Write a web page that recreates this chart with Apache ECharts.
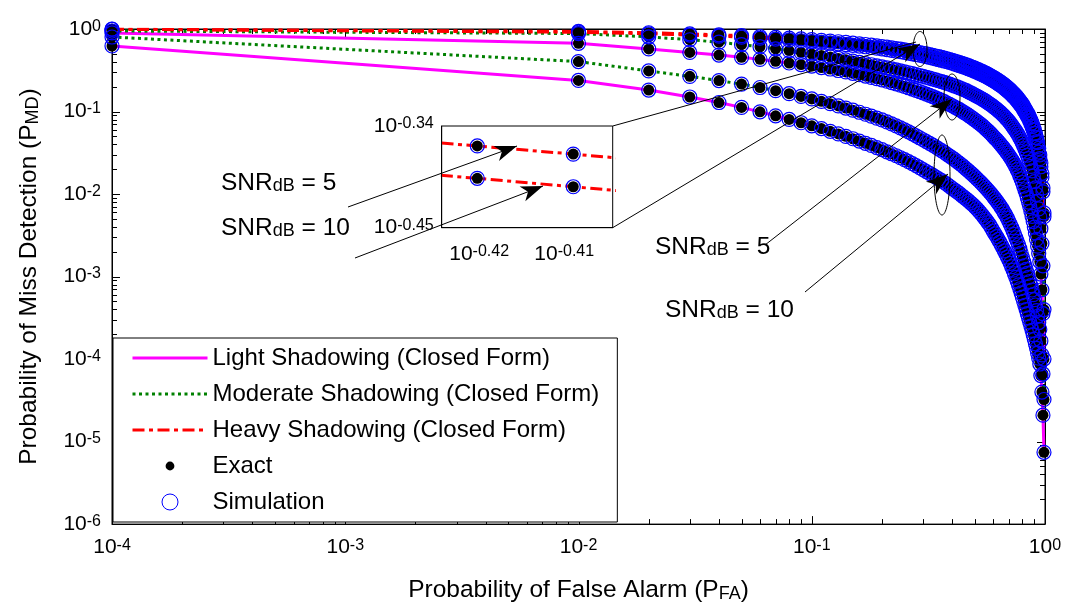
<!DOCTYPE html>
<html>
<head>
<meta charset="utf-8">
<title>Probability of Miss Detection vs Probability of False Alarm</title>
<script src="https://cdn.jsdelivr.net/npm/echarts@6.0.0/dist/echarts.min.js"></script>
<style>
  html, body { margin: 0; padding: 0; background: #fff; }
  #chart { width: 1065px; height: 608px; }
</style>
</head>
<body>
<div id="chart"></div>
<script>
// False-alarm probabilities at which every curve is evaluated
const pfa = [0.0001,
  0.01, 0.02, 0.03, 0.04, 0.05, 0.06, 0.07, 0.08, 0.09, 0.10,
  0.11, 0.12, 0.13, 0.14, 0.15, 0.16, 0.17, 0.18, 0.19, 0.20,
  0.21, 0.22, 0.23, 0.24, 0.25, 0.26, 0.27, 0.28, 0.29, 0.30,
  0.31, 0.32, 0.33, 0.34, 0.35, 0.36, 0.37, 0.38, 0.39, 0.40,
  0.41, 0.42, 0.43, 0.44, 0.45, 0.46, 0.47, 0.48, 0.49, 0.50,
  0.51, 0.52, 0.53, 0.54, 0.55, 0.56, 0.57, 0.58, 0.59, 0.60,
  0.61, 0.62, 0.63, 0.64, 0.65, 0.66, 0.67, 0.68, 0.69, 0.70,
  0.71, 0.72, 0.73, 0.74, 0.75, 0.76, 0.77, 0.78, 0.79, 0.80,
  0.81, 0.82, 0.83, 0.84, 0.85, 0.86, 0.87, 0.88, 0.89, 0.90,
  0.91, 0.92, 0.93, 0.94, 0.95, 0.96, 0.97, 0.98, 0.99];

// log10 of the miss-detection probability, one list per curve (same order as pfa)
const lightSnr5Log10 = [-0.048,
  -0.173, -0.242, -0.284, -0.316, -0.343, -0.368, -0.391, -0.412, -0.431, -0.449,
  -0.467, -0.485, -0.503, -0.520, -0.537, -0.554, -0.570, -0.586, -0.602, -0.617,
  -0.633, -0.649, -0.665, -0.680, -0.696, -0.712, -0.728, -0.744, -0.759, -0.775,
  -0.790, -0.805, -0.820, -0.835, -0.850, -0.865, -0.881, -0.897, -0.913, -0.930,
  -0.946, -0.962, -0.978, -0.995, -1.012, -1.029, -1.046, -1.064, -1.082, -1.100,
  -1.118, -1.137, -1.156, -1.175, -1.195, -1.215, -1.235, -1.256, -1.278, -1.300,
  -1.321, -1.342, -1.364, -1.386, -1.409, -1.432, -1.456, -1.480, -1.505, -1.530,
  -1.556, -1.583, -1.611, -1.641, -1.672, -1.705, -1.740, -1.777, -1.817, -1.860,
  -1.903, -1.948, -1.995, -2.045, -2.097, -2.152, -2.210, -2.270, -2.334, -2.400,
  -2.472, -2.550, -2.632, -2.722, -2.820, -2.970, -3.160, -3.450, -4.000];

const lightSnr10Log10 = [-0.206,
  -0.623, -0.740, -0.824, -0.891, -0.950, -1.004, -1.052, -1.096, -1.136, -1.173,
  -1.207, -1.240, -1.271, -1.301, -1.330, -1.358, -1.385, -1.411, -1.437, -1.463,
  -1.488, -1.512, -1.536, -1.560, -1.584, -1.608, -1.632, -1.656, -1.680, -1.705,
  -1.728, -1.750, -1.772, -1.794, -1.816, -1.838, -1.860, -1.883, -1.906, -1.930,
  -1.952, -1.974, -1.996, -2.018, -2.040, -2.062, -2.084, -2.106, -2.129, -2.152,
  -2.178, -2.205, -2.232, -2.260, -2.288, -2.317, -2.347, -2.378, -2.413, -2.450,
  -2.483, -2.516, -2.550, -2.584, -2.619, -2.654, -2.690, -2.726, -2.763, -2.800,
  -2.840, -2.881, -2.923, -2.966, -3.010, -3.055, -3.101, -3.148, -3.198, -3.250,
  -3.300, -3.350, -3.400, -3.450, -3.500, -3.550, -3.600, -3.652, -3.705, -3.760,
  -3.815, -3.870, -3.928, -3.990, -4.060, -4.200, -4.400, -4.680, -5.130];

const moderateSnr5Log10 = [-0.024,
  -0.055, -0.095, -0.130, -0.160, -0.190, -0.215, -0.240, -0.262, -0.283, -0.303,
  -0.321, -0.339, -0.356, -0.373, -0.389, -0.405, -0.419, -0.433, -0.447, -0.460,
  -0.472, -0.484, -0.496, -0.507, -0.519, -0.530, -0.542, -0.553, -0.564, -0.575,
  -0.585, -0.596, -0.606, -0.617, -0.627, -0.638, -0.648, -0.659, -0.669, -0.680,
  -0.691, -0.702, -0.713, -0.724, -0.736, -0.748, -0.761, -0.773, -0.786, -0.800,
  -0.813, -0.826, -0.839, -0.852, -0.866, -0.880, -0.894, -0.909, -0.924, -0.940,
  -0.956, -0.972, -0.988, -1.005, -1.022, -1.040, -1.059, -1.079, -1.099, -1.120,
  -1.142, -1.165, -1.188, -1.212, -1.237, -1.263, -1.290, -1.319, -1.349, -1.380,
  -1.414, -1.450, -1.488, -1.528, -1.571, -1.617, -1.666, -1.720, -1.782, -1.850,
  -1.925, -2.005, -2.090, -2.180, -2.280, -2.420, -2.600, -2.870, -3.400];

const moderateSnr10Log10 = [-0.097,
  -0.395, -0.508, -0.574, -0.625, -0.668, -0.709, -0.748, -0.784, -0.817, -0.848,
  -0.877, -0.905, -0.932, -0.958, -0.984, -1.009, -1.033, -1.057, -1.080, -1.102,
  -1.126, -1.150, -1.174, -1.198, -1.222, -1.246, -1.270, -1.294, -1.318, -1.342,
  -1.364, -1.386, -1.408, -1.430, -1.452, -1.474, -1.496, -1.518, -1.540, -1.562,
  -1.584, -1.606, -1.628, -1.651, -1.674, -1.697, -1.720, -1.743, -1.766, -1.790,
  -1.813, -1.836, -1.859, -1.883, -1.907, -1.931, -1.955, -1.980, -2.005, -2.030,
  -2.056, -2.082, -2.109, -2.137, -2.166, -2.196, -2.227, -2.259, -2.293, -2.330,
  -2.368, -2.407, -2.447, -2.488, -2.530, -2.573, -2.617, -2.663, -2.715, -2.770,
  -2.818, -2.866, -2.914, -2.962, -3.010, -3.060, -3.110, -3.163, -3.220, -3.280,
  -3.345, -3.412, -3.482, -3.558, -3.640, -3.780, -3.950, -4.180, -4.490];

const heavySnr5Log10 = [-0.0019,
  -0.0297, -0.0455, -0.0586, -0.0704, -0.0813, -0.0916, -0.1014, -0.1109, -0.1200, -0.1290,
  -0.1375, -0.1461, -0.1546, -0.1632, -0.1717, -0.1799, -0.1880, -0.1962, -0.2043, -0.2125,
  -0.2206, -0.2287, -0.2368, -0.2449, -0.2530, -0.2611, -0.2692, -0.2774, -0.2855, -0.2936,
  -0.3020, -0.3104, -0.3188, -0.3272, -0.3356, -0.3443, -0.3530, -0.3616, -0.3704, -0.3792,
  -0.3884, -0.3976, -0.4068, -0.4160, -0.4252, -0.4350, -0.4447, -0.4545, -0.4642, -0.4740,
  -0.4846, -0.4952, -0.5058, -0.5164, -0.5270, -0.5385, -0.5501, -0.5616, -0.5732, -0.5847,
  -0.5975, -0.6103, -0.6232, -0.6360, -0.6488, -0.6634, -0.6780, -0.6925, -0.7071, -0.7217,
  -0.7387, -0.7557, -0.7726, -0.7896, -0.8066, -0.8270, -0.8474, -0.8679, -0.8883, -0.9087,
  -0.9349, -0.9610, -0.9872, -1.0133, -1.0395, -1.0700, -1.1030, -1.1385, -1.1776, -1.2197,
  -1.2666, -1.3187, -1.3778, -1.4457, -1.5257, -1.6234, -1.7493, -1.9263, -2.2284];

const heavySnr10Log10 = [-0.0033,
  -0.0396, -0.0583, -0.0736, -0.0870, -0.0993, -0.1108, -0.1217, -0.1321, -0.1421, -0.1519,
  -0.1611, -0.1703, -0.1795, -0.1887, -0.1979, -0.2066, -0.2152, -0.2239, -0.2325, -0.2412,
  -0.2497, -0.2582, -0.2668, -0.2753, -0.2838, -0.2923, -0.3008, -0.3093, -0.3178, -0.3263,
  -0.3350, -0.3438, -0.3525, -0.3613, -0.3700, -0.3790, -0.3879, -0.3966, -0.4057, -0.4148,
  -0.4242, -0.4336, -0.4430, -0.4524, -0.4618, -0.4719, -0.4820, -0.4920, -0.5021, -0.5122,
  -0.5230, -0.5338, -0.5445, -0.5553, -0.5661, -0.5779, -0.5896, -0.6014, -0.6131, -0.6249,
  -0.6379, -0.6509, -0.6640, -0.6770, -0.6900, -0.7047, -0.7195, -0.7342, -0.7490, -0.7637,
  -0.7809, -0.7980, -0.8152, -0.8323, -0.8495, -0.8701, -0.8908, -0.9114, -0.9321, -0.9527,
  -0.9789, -1.0050, -1.0312, -1.0573, -1.0835, -1.1143, -1.1476, -1.1834, -1.2228, -1.2652,
  -1.3121, -1.3643, -1.4235, -1.4915, -1.5716, -1.6694, -1.7956, -1.9727, -2.2750];

// Axis decades (tick labels are 10^k)
const xDecades = [-4, -3, -2, -1, 0];
const yDecades = [-6, -5, -4, -3, -2, -1, 0];
// Zoomed window (exponents of 10) and the tick labels it carries
const insetXRange = [-0.4244, -0.4043];
const insetYRange = [-0.45, -0.34];
const insetXLabels = [-0.42, -0.41];
const insetYLabels = [-0.34, -0.45];

const FONT = '"Liberation Sans", Arial, Helvetica, sans-serif';
const LIGHT = 'Light Shadowing (Closed Form)';
const MODERATE = 'Moderate Shadowing (Closed Form)';
const HEAVY = 'Heavy Shadowing (Closed Form)';

const lineLook = {};
lineLook[LIGHT] = { color: '#ff00ff', type: 'solid' };
lineLook[MODERATE] = { color: '#008000', type: [3, 3.5] };
lineLook[HEAVY] = { color: '#ff0000', type: [12, 4.5, 4, 4.5] };

const curves = [
  { name: LIGHT, values: lightSnr5Log10 },
  { name: LIGHT, values: lightSnr10Log10 },
  { name: MODERATE, values: moderateSnr5Log10 },
  { name: MODERATE, values: moderateSnr10Log10 },
  { name: HEAVY, values: heavySnr5Log10 },
  { name: HEAVY, values: heavySnr10Log10 }
];
const zoomedCurves = [heavySnr5Log10, heavySnr10Log10];

const toPoints = vals => pfa.map((p, i) => [p, Math.pow(10, vals[i])]);
const toLogPoints = vals => pfa.map((p, i) => [Math.log10(p), vals[i]]);

const supRich = {
  b: { fontFamily: FONT, fontSize: 21, color: '#000', lineHeight: 21, verticalAlign: 'bottom' },
  s: { fontFamily: FONT, fontSize: 16, color: '#000', lineHeight: 16, verticalAlign: 'top', padding: [0, 0, 14, 0] }
};
const subRich = {
  t: { fontFamily: FONT, fontSize: 24.5, color: '#000', lineHeight: 25, verticalAlign: 'top' },
  u: { fontFamily: FONT, fontSize: 18, color: '#000', lineHeight: 18, verticalAlign: 'bottom', padding: [13, 0, 0, 0] }
};
const powLabel = e => '{b|10}{s|' + e + '}';

const dotStyle = { color: '#000', opacity: 1 };
const ringStyle = { color: 'rgba(0,0,0,0)', borderColor: '#0000ff', borderWidth: 1.2, opacity: 1 };

// ---- series -------------------------------------------------------------
const series = [];
curves.forEach(c => {
  series.push({
    type: 'line', name: c.name, xAxisIndex: 0, yAxisIndex: 0,
    data: toPoints(c.values), symbol: 'none', silent: true, z: 2,
    lineStyle: { color: lineLook[c.name].color, width: 3, type: lineLook[c.name].type, opacity: 1 }
  });
});
const allPoints = [];
curves.forEach(c => toPoints(c.values).forEach(pt => allPoints.push(pt)));
series.push({
  type: 'scatter', name: 'Exact', xAxisIndex: 0, yAxisIndex: 0, data: allPoints,
  symbol: 'circle', symbolSize: 11, silent: true, z: 3, itemStyle: dotStyle
});
series.push({
  type: 'scatter', name: 'Simulation', xAxisIndex: 0, yAxisIndex: 0, data: allPoints,
  symbol: 'circle', symbolSize: 14, silent: true, z: 4, itemStyle: ringStyle
});

// tick marks (inside, on all four sides, with log-spaced minor ticks)
const xTickVals = [], yTickVals = [];
xDecades.forEach((e, i) => {
  xTickVals.push([Math.pow(10, e), 1e-3]);
  if (i < xDecades.length - 1) for (let m = 2; m <= 9; m++) xTickVals.push([m * Math.pow(10, e), 1e-3]);
});
yDecades.forEach((e, i) => {
  yTickVals.push([1e-2, Math.pow(10, e)]);
  if (i < yDecades.length - 1) for (let m = 2; m <= 9; m++) yTickVals.push([1e-2, m * Math.pow(10, e)]);
});
const isDecade = v => Math.abs(Math.log10(v) - Math.round(Math.log10(v))) < 1e-9;
const tickStyle = { stroke: '#000', lineWidth: 1 };
series.push({
  type: 'custom', xAxisIndex: 0, yAxisIndex: 0, data: xTickVals, silent: true, clip: false, z: 1,
  renderItem: (params, api) => {
    const cs = params.coordSys;
    const x = Math.round(api.coord([api.value(0), 1e-3])[0]) + 0.5;
    const len = isDecade(api.value(0)) ? 8 : 5;
    return { type: 'group', children: [
      { type: 'line', shape: { x1: x, y1: cs.y + cs.height, x2: x, y2: cs.y + cs.height - len }, style: tickStyle },
      { type: 'line', shape: { x1: x, y1: cs.y, x2: x, y2: cs.y + len }, style: tickStyle }
    ] };
  }
});
series.push({
  type: 'custom', xAxisIndex: 0, yAxisIndex: 0, data: yTickVals, silent: true, clip: false, z: 1,
  renderItem: (params, api) => {
    const cs = params.coordSys;
    const y = Math.round(api.coord([1e-2, api.value(1)])[1]) + 0.5;
    const len = isDecade(api.value(1)) ? 8 : 5;
    return { type: 'group', children: [
      { type: 'line', shape: { x1: cs.x, y1: y, x2: cs.x + len, y2: y }, style: tickStyle },
      { type: 'line', shape: { x1: cs.x + cs.width, y1: y, x2: cs.x + cs.width - len, y2: y }, style: tickStyle }
    ] };
  }
});

// zoomed window on the heavy-shadowing pair
zoomedCurves.forEach(vals => {
  series.push({
    type: 'line', name: HEAVY + ' ', xAxisIndex: 2, yAxisIndex: 2, data: toLogPoints(vals),
    symbol: 'none', silent: true, clip: true, z: 11,
    lineStyle: { color: lineLook[HEAVY].color, width: 3, type: lineLook[HEAVY].type, opacity: 1 }
  });
});
const zoomPts = [];
zoomedCurves.forEach(vals => toLogPoints(vals).forEach(pt => zoomPts.push(pt)));
series.push({
  type: 'scatter', name: 'Exact ', xAxisIndex: 2, yAxisIndex: 2, data: zoomPts, clip: true,
  symbol: 'circle', symbolSize: 11, silent: true, z: 12, itemStyle: dotStyle
});
series.push({
  type: 'scatter', name: 'Simulation ', xAxisIndex: 2, yAxisIndex: 2, data: zoomPts, clip: true,
  symbol: 'circle', symbolSize: 14, silent: true, z: 13, itemStyle: ringStyle
});

// ---- annotations --------------------------------------------------------
function arrowHead(tip, from, len, half, notch) {
  const dx = tip[0] - from[0], dy = tip[1] - from[1];
  const d = Math.hypot(dx, dy), ux = dx / d, uy = dy / d, nx = -uy, ny = ux;
  return [
    tip,
    [tip[0] - len * ux + half * nx, tip[1] - len * uy + half * ny],
    [tip[0] - (len - notch) * ux, tip[1] - (len - notch) * uy],
    [tip[0] - len * ux - half * nx, tip[1] - len * uy - half * ny]
  ];
}
function ellipsePts(cx, cy, rx, ry) {
  const pts = [];
  for (let k = 0; k < 72; k++) {
    const t = k / 72 * 2 * Math.PI;
    pts.push([cx + rx * Math.cos(t), cy + ry * Math.sin(t)]);
  }
  return pts;
}
const annStroke = { stroke: '#000', lineWidth: 1, fill: null };
const arrows = [
  { from: [612.7, 227.7], to: [920, 44], head: true },
  { from: [612.7, 126], to: [916, 42], head: false },
  { from: [765, 245], to: [952, 99], head: true },
  { from: [805, 292], to: [948, 174], head: true },
  { from: [348, 207], to: [517, 146], head: true },
  { from: [355, 258], to: [543, 186], head: true }
];
const rings = [[920, 49, 7, 17.5], [952, 97, 8, 23], [942, 175, 8, 40]];
const snrTexts = [
  { x: 221, y: 183, v: '5' }, { x: 221, y: 228, v: '10' },
  { x: 655, y: 247, v: '5' }, { x: 665, y: 310, v: '10' }
];
const graphics = [];
arrows.forEach(a => {
  graphics.push({ type: 'line', silent: true, z: 30, shape: { x1: a.from[0], y1: a.from[1], x2: a.to[0], y2: a.to[1] }, style: annStroke });
  if (a.head) graphics.push({ type: 'polygon', silent: true, z: 31, shape: { points: arrowHead(a.to, a.from, 22, 8, 6) }, style: { fill: '#000' } });
});
rings.forEach(r => graphics.push({ type: 'polygon', silent: true, z: 30, shape: { points: ellipsePts(r[0], r[1], r[2], r[3]) }, style: annStroke }));
snrTexts.forEach(t => graphics.push({
  type: 'text', silent: true, z: 32, x: t.x, y: t.y,
  style: {
    text: '{t|SNR}{u|dB}{t| = ' + t.v + '}', rich: subRich,
    textAlign: 'left', textVerticalAlign: 'middle', align: 'left', verticalAlign: 'middle'
  }
}));

// ---- option -------------------------------------------------------------
const chart = echarts.init(document.getElementById('chart'), null, { renderer: 'canvas' });
const option = {
  animation: false,
  backgroundColor: '#fff',
  grid: [
    { left: 112, top: 29, width: 933, height: 496, show: true, borderColor: '#000', borderWidth: 1, backgroundColor: 'transparent' },
    { left: 441.7, top: 126, width: 171, height: 101.7, show: true, borderColor: '#000', borderWidth: 1, backgroundColor: '#fff', z: 10 }
  ],
  xAxis: [
    {
      type: 'log', logBase: 10, gridIndex: 0, min: 1e-4, max: 1, position: 'bottom',
      axisLine: { show: true, lineStyle: { color: '#000', width: 1 } },
      axisTick: { show: false }, splitLine: { show: false }, minorTick: { show: false },
      axisLabel: { margin: 13, formatter: v => powLabel(Math.round(Math.log10(v))), rich: supRich },
      name: '{t|Probability of False Alarm (P}{u|FA}{t|)}',
      nameLocation: 'middle', nameGap: 52, nameTextStyle: { rich: subRich }
    },
    {
      type: 'log', logBase: 10, gridIndex: 0, min: 1e-4, max: 1, position: 'top',
      axisLine: { show: true, lineStyle: { color: '#000' } }, axisTick: { show: false },
      axisLabel: { show: false }, splitLine: { show: false }
    },
    {
      type: 'value', gridIndex: 1, min: insetXRange[0], max: insetXRange[1], splitNumber: 2, z: 12,
      axisLine: { show: true, lineStyle: { color: '#000' } }, axisTick: { show: false }, splitLine: { show: false },
      axisLabel: {
        margin: 16, rich: supRich, showMinLabel: false, showMaxLabel: false,
        formatter: v => {
          const hit = insetXLabels.find(l => Math.abs(l - v) < 1e-6);
          return hit === undefined ? '' : powLabel(hit.toFixed(2));
        }
      }
    }
  ],
  yAxis: [
    {
      type: 'log', logBase: 10, gridIndex: 0, min: 1e-6, max: 1, position: 'left',
      axisLine: { show: true, lineStyle: { color: '#000', width: 1 } },
      axisTick: { show: false }, splitLine: { show: false }, minorTick: { show: false },
      axisLabel: { margin: 11, formatter: v => powLabel(Math.round(Math.log10(v))), rich: supRich },
      name: '{t|Probability of Miss Detection (P}{u|MD}{t|)}',
      nameLocation: 'middle', nameGap: 70, nameTextStyle: { rich: subRich }
    },
    {
      type: 'log', logBase: 10, gridIndex: 0, min: 1e-6, max: 1, position: 'right',
      axisLine: { show: true, lineStyle: { color: '#000' } }, axisTick: { show: false },
      axisLabel: { show: false }, splitLine: { show: false }
    },
    {
      type: 'value', gridIndex: 1, min: insetYRange[0], max: insetYRange[1], interval: 0.11, z: 12,
      axisLine: { show: true, lineStyle: { color: '#000' } }, axisTick: { show: false }, splitLine: { show: false },
      axisLabel: {
        margin: 8, rich: supRich,
        formatter: v => {
          const hit = insetYLabels.find(l => Math.abs(l - v) < 1e-6);
          return hit === undefined ? '' : powLabel(hit.toFixed(2));
        }
      }
    }
  ],
  legend: {
    orient: 'vertical', left: 113, top: 338, z: 20,
    backgroundColor: '#fff', borderColor: '#000', borderWidth: 1,
    padding: [8, 18, 8, 18], itemWidth: 75, itemHeight: 16, itemGap: 12,
    selectedMode: false,
    textStyle: { fontFamily: FONT, fontSize: 24, color: '#000', lineHeight: 24 },
    data: [
      { name: LIGHT, itemStyle: { opacity: 0 }, lineStyle: { width: 3, color: lineLook[LIGHT].color, type: lineLook[LIGHT].type } },
      { name: MODERATE, itemStyle: { opacity: 0 }, lineStyle: { width: 3, color: lineLook[MODERATE].color, type: lineLook[MODERATE].type } },
      { name: HEAVY, itemStyle: { opacity: 0 }, lineStyle: { width: 3, color: lineLook[HEAVY].color, type: lineLook[HEAVY].type } },
      { name: 'Exact', icon: 'path://M0,0Z M20,20Z M4.5,10a5.5,5.5 0 1,0 11,0a5.5,5.5 0 1,0 -11,0', itemStyle: { color: '#000', opacity: 1 } },
      { name: 'Simulation', icon: 'path://M0.5,10a9.5,9.5 0 1,0 19,0a9.5,9.5 0 1,0 -19,0', itemStyle: { color: 'rgba(0,0,0,0)', borderColor: '#0000ff', borderWidth: 1, opacity: 1 } }
    ]
  },
  graphic: graphics,
  series: series
};
chart.setOption(option);
</script>
</body>
</html>
